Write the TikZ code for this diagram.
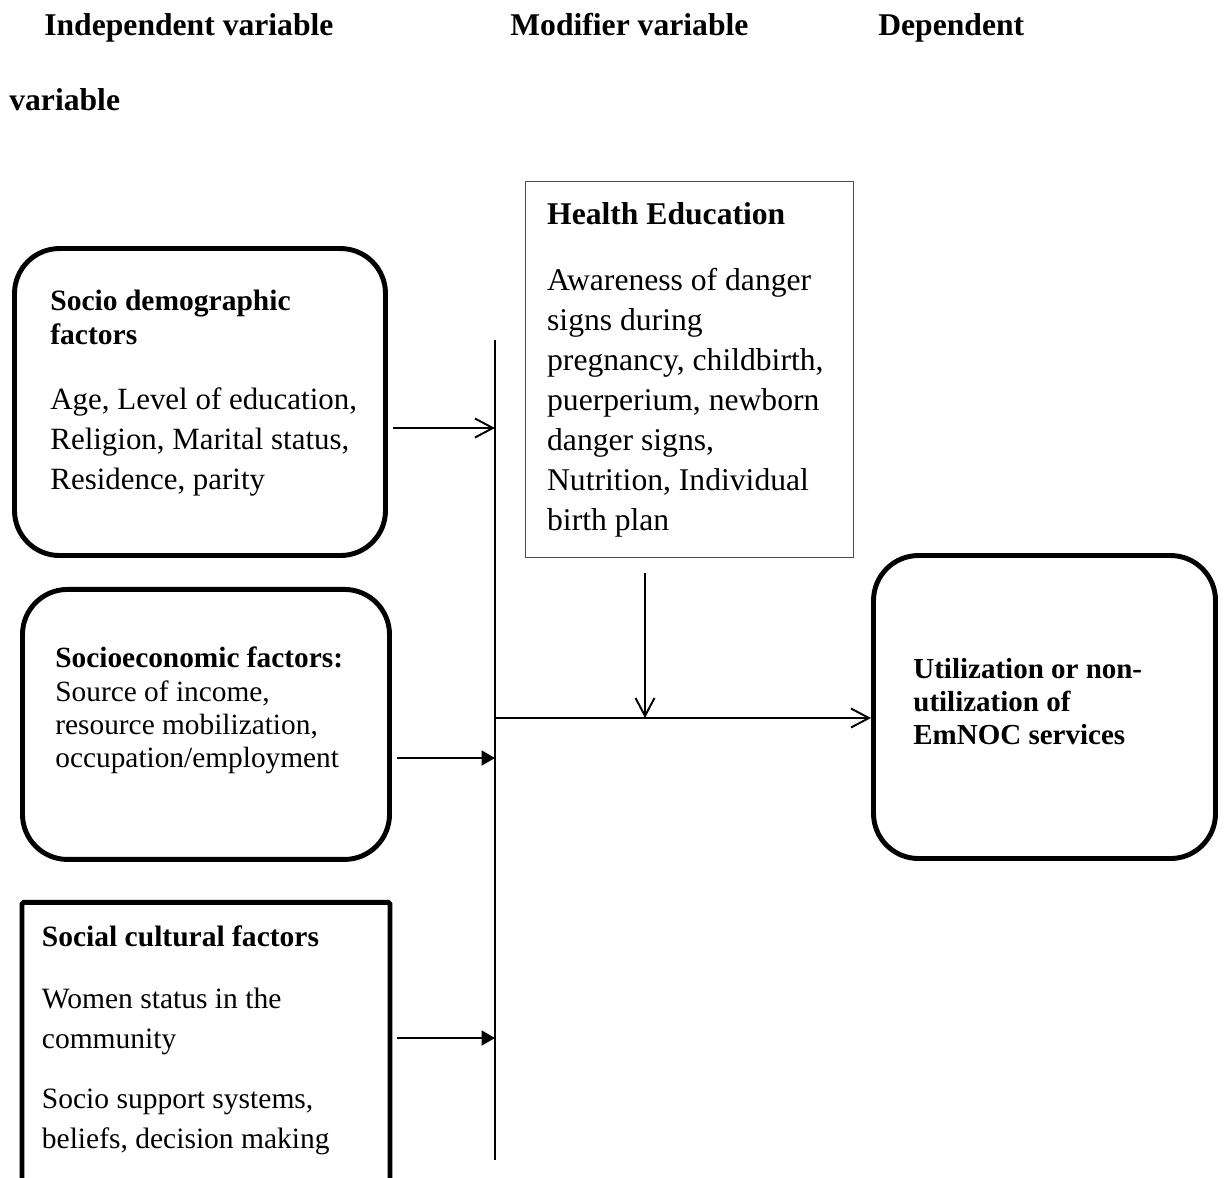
\documentclass[tikz,border=0pt]{standalone}
\usepackage{fontspec}
\setmainfont{Liberation Serif}
\usepackage{tikz}
\usetikzlibrary{positioning,calc,arrows.meta}

\begin{document}
\begin{tikzpicture}[rbox/.style = {draw, line width=2.8pt, rounded corners=0.9cm},
sbox/.style = {draw, line width=2.8pt, rounded corners=1pt},
hbox/.style = {draw=black!70, line width=0.8pt},
txt/.style = {inner sep=0, align=left, anchor=north west},
head/.style = {inner sep=0, anchor=base west, font=\fontsize{18}{22.8}\selectfont\bfseries},
barb/.style = {-{Straight Barb[length=0.36cm,width=0.38cm]}, line width=1.1pt},
tri/.style = {-{Triangle[length=0.27cm,width=0.3cm]}, line width=1.1pt}]
\useasboundingbox (0,0) rectangle (24.54,-23.54);
\clip (0,0) rectangle (24.54,-23.54);
\node[head] (11) at (0.88,-0.7) {Independent variable};
\node[head] (12) at (10.2,-0.7) {Modifier variable};
\node[head] (13) at (17.56,-0.7) {Dependent};
\node[head] (14) at (0.18,-2.2) {variable};
\node[rbox, minimum width=7.42cm, minimum height=6.14cm] (1) at (4.0,-8.04) {};
\node[rbox, minimum width=7.34cm, minimum height=5.4cm] (2) [below=0.58cm of 1, xshift=0.12cm] {};
\node[sbox, minimum width=7.36cm, minimum height=6cm] (3) [below=0.76cm of 2] {};
\node[hbox, minimum width=6.56cm, minimum height=7.52cm] (4) at (13.79,-7.39) {};
\node[rbox, minimum width=6.84cm, minimum height=6.06cm] (5) at (20.89,-14.14) {};
\node[txt, font=\fontsize{17.6}{22.8}\selectfont, below right=0.88cm and 0.76cm of 1.north west] (6)
{{\fontsize{16.8}{22.8}\selectfont\bfseries Socio demographic}\\[-3.4pt]{\fontsize{16.8}{22.8}\selectfont\bfseries factors}\\[14pt]Age, Level of education,\\Religion, Marital status,\\Residence, parity};
\node[txt, font=\fontsize{16.7}{18.8}\selectfont, below right=1.2cm and 0.7cm of 2.north west] (7)
{\textbf{Socioeconomic factors:}\\Source of income,\\resource mobilization,\\occupation/employment};
\node[txt, font=\fontsize{16.8}{22.8}\selectfont, below right=0.5cm and 0.44cm of 3.north west] (8)
{\textbf{Social cultural factors}\\[12.5pt]Women status in the\\community\\[11.4pt]Socio support systems,\\beliefs, decision making};
\node[txt, font=\fontsize{18}{22.8}\selectfont, below right=0.42cm and 0.44cm of 4.north west] (9)
{\textbf{Health Education}\\[14.8pt]Awareness of danger\\signs during\\pregnancy, childbirth,\\puerperium, newborn\\danger signs,\\Nutrition, Individual\\birth plan};
\node[txt, font=\fontsize{16.5}{18.8}\selectfont\bfseries, below right=2.1cm and 0.84cm of 5.north west] (10)
{Utilization or non-\\utilization of\\EmNOC services};
\coordinate (top) at (9.9,-6.8);
\coordinate (bot) at (9.9,-23.2);
\coordinate (b0) at (9.9,-14.36);
\coordinate (b1) at (9.9,-8.56);
\coordinate (b2) at (9.9,-15.16);
\coordinate (b3) at (9.9,-20.76);
\coordinate (m) at (12.9,-14.36);
\draw[line width=1.1pt] (top) -- (bot);
\draw[barb, shorten <=1mm] (1.east |- b1) -- (b1);
\draw[tri, shorten <=1mm] (2.east |- b2) -- (b2);
\draw[tri, shorten <=1mm] (3.east |- b3) -- (b3);
\draw[barb, shorten <=0.3cm] (m |- 4.south) -- (m);
\draw[barb] (b0) -- (5.west |- b0);
\end{tikzpicture}
\end{document}
